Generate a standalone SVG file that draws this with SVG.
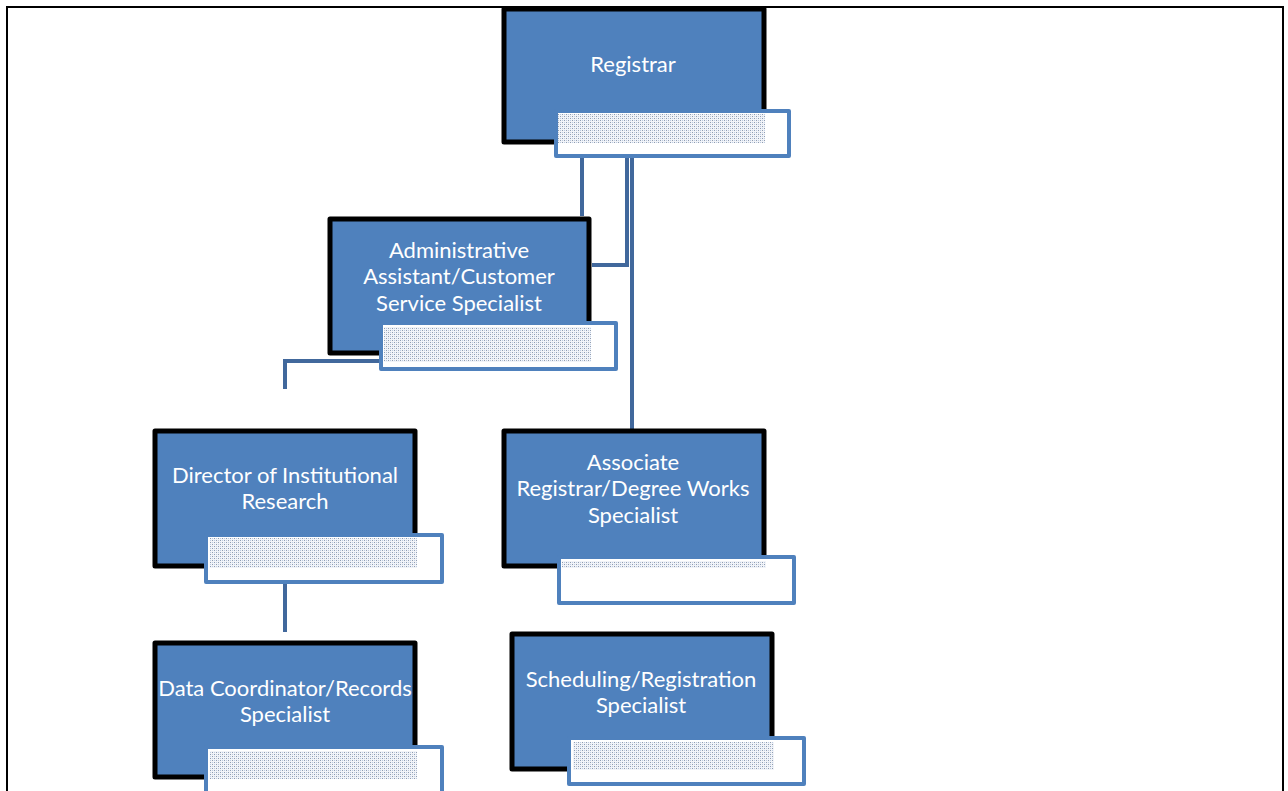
<svg xmlns="http://www.w3.org/2000/svg" width="1288" height="791" viewBox="0 0 1288 791">
<style>
.box{fill:#4F81BD;stroke:#000;stroke-width:5;stroke-linejoin:round}
.sub{fill:#fff;stroke:#4F81BD;stroke-width:4;stroke-linejoin:round}
.pat{fill:url(#dots)}
.t{font-family:Lato,"Open Sans","Liberation Sans",sans-serif;font-size:22px;fill:#fff;text-anchor:middle}
.c{fill:none;stroke:#41689C;stroke-width:4}
</style>
<defs>
<pattern id="dots" width="4" height="4" patternUnits="userSpaceOnUse">
<rect width="4" height="4" fill="#f2f4f8"/>
<rect x="0" y="0" width="1" height="1" fill="#8f9cb0"/>
<rect x="2" y="2" width="1" height="1" fill="#8f9cb0"/>
<rect x="2" y="0" width="1" height="1" fill="#bccbe2"/>
<rect x="0" y="2" width="1" height="1" fill="#bccbe2"/>
</pattern>
</defs>
<g id="frame"><path d="M7,791 V7 H1283 V791" fill="none" stroke="#000" stroke-width="2"/></g>
<g id="connectors">
<path class="c" d="M582,157 V216"/>
<path class="c" d="M627,157 V265 H592"/>
<path class="c" d="M632,157 V429"/>
<path class="c" d="M380,361 H285 V389"/>
<path class="c" d="M285,583 V632"/>
</g>
<g id="registrar">
<rect class="box" x="504" y="9" width="260" height="133"/>
<text class="t" x="633" y="72">Registrar</text>
<rect class="sub" x="556" y="111" width="233" height="45"/>
<rect class="pat" x="558" y="114" width="207" height="29"/>
</g>
<g id="admin">
<rect class="box" x="330" y="219" width="259" height="134"/>
<text class="t" x="459" y="258">Administrative</text>
<text class="t" x="459" y="284">Assistant/Customer</text>
<text class="t" x="459" y="311">Service Specialist</text>
<rect class="sub" x="381" y="323" width="235" height="46"/>
<rect class="pat" x="384" y="327" width="207" height="35"/>
</g>
<g id="director">
<rect class="box" x="155" y="431" width="260" height="135"/>
<text class="t" x="285" y="483">Director of Institutional</text>
<text class="t" x="285" y="509">Research</text>
<rect class="sub" x="206" y="535" width="236" height="47"/>
<rect class="pat" x="210" y="538" width="207" height="30"/>
</g>
<g id="associate">
<rect class="box" x="504" y="431" width="260" height="135"/>
<text class="t" x="633" y="470">Associate</text>
<text class="t" x="633" y="496">Registrar/Degree Works</text>
<text class="t" x="633" y="523">Specialist</text>
<rect class="sub" x="559" y="557" width="235" height="46"/>
<rect class="pat" x="562" y="561" width="204" height="7"/>
</g>
<g id="data">
<rect class="box" x="155" y="643" width="260" height="134"/>
<text class="t" x="285" y="696">Data Coordinator/Records</text>
<text class="t" x="285" y="722">Specialist</text>
<rect class="sub" x="206" y="747" width="236" height="50"/>
<rect class="pat" x="210" y="751" width="207" height="28"/>
</g>
<g id="scheduling">
<rect class="box" x="512" y="634" width="260" height="135"/>
<text class="t" x="641" y="687">Scheduling/Registration</text>
<text class="t" x="641" y="713">Specialist</text>
<rect class="sub" x="569" y="738" width="235" height="46"/>
<rect class="pat" x="573" y="742" width="201" height="28"/>
</g>
</svg>
